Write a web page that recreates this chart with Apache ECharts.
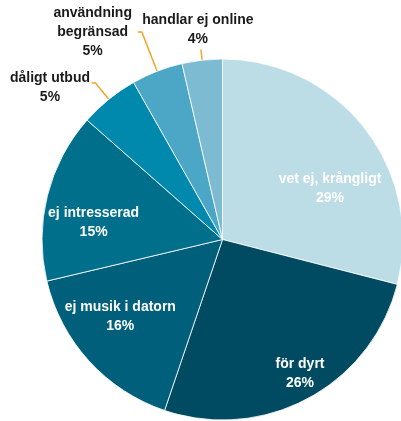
<!DOCTYPE html>
<html><head><meta charset="utf-8">
<script src="https://cdn.jsdelivr.net/npm/echarts@6/dist/echarts.min.js"></script>
<style>html,body{margin:0;padding:0;background:#fff}#c{width:401px;height:421px}</style>
</head><body><div id="c"></div>
<script>
// Data
const categories = ['vet ej, krångligt', 'för dyrt', 'ej musik i datorn', 'ej intresserad', 'dåligt utbud', 'användning begränsad', 'handlar ej online'];
const shares = [29, 26.2, 16.1, 15.2, 5.3, 4.6, 3.6];
const shareLabels = ['29%', '26%', '16%', '15%', '5%', '5%', '4%'];
const labelNames = ['vet ej, krångligt', 'för dyrt', 'ej musik i datorn', 'ej intresserad', 'dåligt utbud', 'användning\nbegränsad', 'handlar ej online'];

// Styles / layout
const colors = ['#bcdce6', '#004b61', '#005f7b', '#006f8c', '#0088ad', '#4ca6c6', '#7dbbd3'];
const outside = [false, false, false, false, true, true, true];
const lineLen = [0, 0, 0, 0, 21, 42, 10.5];
const lineLen2 = [0, 0, 0, 0, 4, 4, 0.01];
const labelAngle = [64.6, 150, 233, 277.5, 311.4, 328, 353.3];
const labelRadius = [119, 155, 128, 130, 230, 245, 211];
const CX = 222.5, CY = 239.5, R = 180.5;

const chart = echarts.init(document.getElementById('c'), null, {renderer: 'canvas'});
const data = categories.map((name, i) => ({
  name: name,
  value: shares[i],
  itemStyle: {color: colors[i]},
  label: {
    position: outside[i] ? 'outside' : 'inside',
    color: outside[i] ? '#1a1a1a' : '#ffffff'
  },
  labelLine: {show: outside[i], length: lineLen[i], length2: lineLen2[i]}
}));

chart.setOption({
  animation: false,
  series: [{
    type: 'pie',
    center: [CX, CY],
    radius: [0, R],
    startAngle: 90,
    clockwise: true,
    avoidLabelOverlap: false,
    emphasis: {disabled: true},
    itemStyle: {borderColor: '#ffffff', borderWidth: 0.8},
    label: {
      show: true,
      fontFamily: '"Liberation Sans", Arial, sans-serif',
      fontWeight: 'bold',
      fontSize: 14,
      lineHeight: 19,
      formatter: p => labelNames[p.dataIndex] + '\n' + shareLabels[p.dataIndex]
    },
    labelLine: {
      lineStyle: {color: '#f5a52a', width: 1.5},
      smooth: false,
      minTurnAngle: 0
    },
    labelLayout: function (p) {
      const i = p.dataIndex;
      const a = labelAngle[i] * Math.PI / 180;
      const o = {
        x: CX + labelRadius[i] * Math.sin(a),
        y: CY - labelRadius[i] * Math.cos(a),
        align: 'center',
        verticalAlign: 'middle'
      };
      if (p.labelLinePoints) o.labelLinePoints = p.labelLinePoints;
      return o;
    },
    data: data
  }]
});
</script>
</body></html>
